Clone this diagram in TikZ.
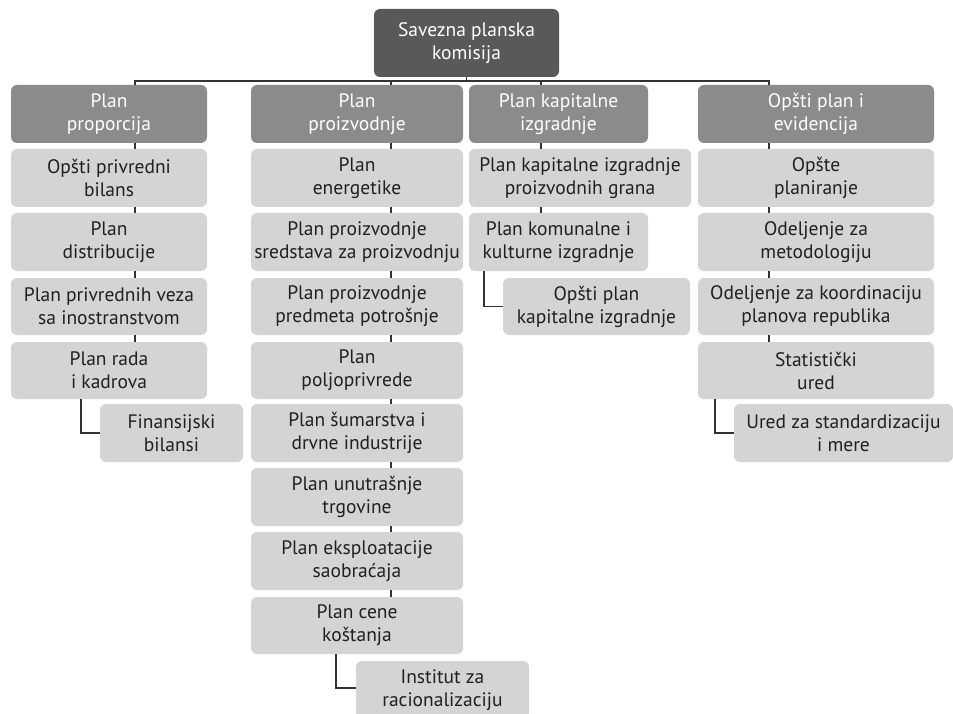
\documentclass[tikz,border=0pt]{standalone}
\usepackage{fontspec}
\setmainfont{PT Sans}
\definecolor{topc}{HTML}{58595B}
\definecolor{headc}{HTML}{8A8B8D}
\definecolor{lightc}{HTML}{D3D4D5}
\definecolor{linec}{HTML}{333333}
\definecolor{txtc}{HTML}{231F20}
\newcommand{\bx}[7]{\node[#6, minimum width={#4-#2}, minimum height={#5-#3}] (#1) at ({(#2+#4)/2},{(#3+#5)/2}) {#7};}
\tikzset{
  base/.style={rounded corners=6pt, inner sep=0pt, align=center, font=\fontsize{19.5}{23}\selectfont},
  topbox/.style={base, fill=topc, text=white},
  headbox/.style={base, fill=headc, text=white},
  itembox/.style={base, fill=lightc, text=txtc},
  conn/.style={draw=linec, line width=1.3pt}
}
\begin{document}
\begin{tikzpicture}[x=1pt,y=-1pt]
\useasboundingbox (0,0) rectangle (953,714);
\clip (0,0) rectangle (953,714);
% top
\bx{top}{374}{9}{559}{77}{topbox}{Savezna planska\\komisija}
% headers
\bx{h1}{11}{85}{207}{143}{headbox}{Plan\\proporcija}
\bx{h2}{251}{85}{463}{143}{headbox}{Plan\\proizvodnje}
\bx{h3}{469}{85}{648}{143}{headbox}{Plan kapitalne\\izgradnje}
\bx{h4}{698}{85}{934}{143}{headbox}{Opšti plan i\\evidencija}
% column 1
\bx{a1}{11}{149}{207}{207}{itembox}{Opšti privredni\\bilans}
\bx{a2}{11}{213}{207}{271}{itembox}{Plan\\distribucije}
\bx{a3}{11}{278}{207}{335}{itembox}{Plan privrednih veza\\sa inostranstvom}
\bx{a4}{11}{342}{207}{399}{itembox}{Plan rada\\i kadrova}
\bx{a5}{100}{404}{243}{462}{itembox}{Finansijski\\bilansi}
% column 2
\bx{b1}{251}{149}{463}{207}{itembox}{Plan\\energetike}
\bx{b2}{251}{213}{463}{271}{itembox}{Plan proizvodnje\\sredstava za proizvodnju}
\bx{b3}{251}{278}{463}{335}{itembox}{Plan proizvodnje\\predmeta potrošnje}
\bx{b4}{251}{342}{463}{399}{itembox}{Plan\\poljoprivrede}
\bx{b5}{251}{404}{463}{462}{itembox}{Plan šumarstva i\\drvne industrije}
\bx{b6}{251}{468}{463}{526}{itembox}{Plan unutrašnje\\trgovine}
\bx{b7}{251}{532}{463}{590}{itembox}{Plan eksploatacije\\saobraćaja}
\bx{b8}{251}{597}{463}{654}{itembox}{Plan cene\\koštanja}
\bx{b9}{356}{661}{529}{719}{itembox}{Institut za\\racionalizaciju}
% column 3
\bx{c1}{469}{149}{691}{207}{itembox}{Plan kapitalne izgradnje\\proizvodnih grana}
\bx{c2}{469}{213}{648}{271}{itembox}{Plan komunalne i\\kulturne izgradnje}
\bx{c3}{503}{278}{690}{335}{itembox}{Opšti plan\\kapitalne izgradnje}
% column 4
\bx{d1}{698}{149}{934}{207}{itembox}{Opšte\\planiranje}
\bx{d2}{698}{213}{934}{271}{itembox}{Odeljenje za\\metodologiju}
\bx{d3}{698}{278}{934}{335}{itembox}{Odeljenje za koordinaciju\\planova republika}
\bx{d4}{698}{342}{934}{399}{itembox}{Statistički\\ured}
\bx{d5}{734}{404}{953}{462}{itembox}{Ured za standardizaciju\\i mere}
% connector coordinates
\coordinate (bus) at (0,81);
\coordinate (x1) at (135,0);
\coordinate (x2) at (391,0);
\coordinate (x3) at (541,0);
\coordinate (x4) at (769,0);
\coordinate (s1) at (81,0);
\coordinate (s2) at (336,0);
\coordinate (s3) at (484,0);
\coordinate (s4) at (715,0);
% bus
\draw[conn] (x1 |- h1.north) -- (x1 |- bus) -- (x4 |- bus) -- (x4 |- h4.north);
\draw[conn] (top.south) -- (top.south |- bus);
\draw[conn] (x2 |- bus) -- (x2 |- h2.north);
\draw[conn] (x3 |- bus) -- (x3 |- h3.north);
% column 1 ticks
\draw[conn] (x1 |- h1.south) -- (x1 |- a1.north);
\draw[conn] (x1 |- a1.south) -- (x1 |- a2.north);
\draw[conn] (x1 |- a2.south) -- (x1 |- a3.north);
\draw[conn] (x1 |- a3.south) -- (x1 |- a4.north);
\draw[conn] (s1 |- a4.south) |- (a5.west);
% column 2 ticks
\draw[conn] (x2 |- h2.south) -- (x2 |- b1.north);
\draw[conn] (x2 |- b1.south) -- (x2 |- b2.north);
\draw[conn] (x2 |- b2.south) -- (x2 |- b3.north);
\draw[conn] (x2 |- b3.south) -- (x2 |- b4.north);
\draw[conn] (x2 |- b4.south) -- (x2 |- b5.north);
\draw[conn] (x2 |- b5.south) -- (x2 |- b6.north);
\draw[conn] (x2 |- b6.south) -- (x2 |- b7.north);
\draw[conn] (x2 |- b7.south) -- (x2 |- b8.north);
\draw[conn] (s2 |- b8.south) -- (s2 |- 0,688) -- (b9.west |- 0,688);
% column 3 ticks
\draw[conn] (x3 |- h3.south) -- (x3 |- c1.north);
\draw[conn] (x3 |- c1.south) -- (x3 |- c2.north);
\draw[conn] (s3 |- c2.south) |- (c3.west);
% column 4 ticks
\draw[conn] (x4 |- h4.south) -- (x4 |- d1.north);
\draw[conn] (x4 |- d1.south) -- (x4 |- d2.north);
\draw[conn] (x4 |- d2.south) -- (x4 |- d3.north);
\draw[conn] (x4 |- d3.south) -- (x4 |- d4.north);
\draw[conn] (s4 |- d4.south) |- (d5.west);
\end{tikzpicture}
\end{document}
